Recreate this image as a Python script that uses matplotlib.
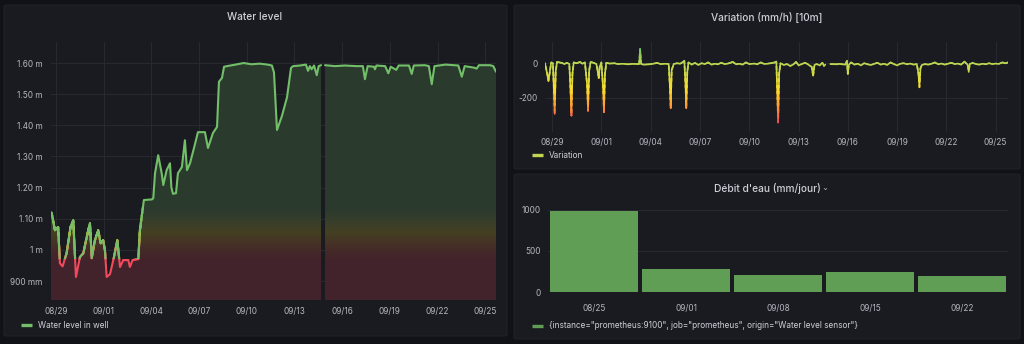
import matplotlib
matplotlib.use("Agg")
import matplotlib.pyplot as plt
import numpy as np
from matplotlib.colors import LinearSegmentedColormap, Normalize, to_rgb
from matplotlib.patches import Rectangle, FancyBboxPatch
from matplotlib.lines import Line2D
from matplotlib.path import Path

plt.rcParams["font.family"] = ["Inter", "DejaVu Sans"]

# ── Data ──────────────────────────────────────────────────────────────────────
# days since 08/29 00:00
DATE_TICKS = [0, 3, 6, 9, 12, 15, 18, 21, 24, 27]
DATE_LABELS = ["08/29", "09/01", "09/04", "09/07", "09/10",
               "09/13", "09/16", "09/19", "09/22", "09/25"]

WL_DAY = [-0.31, -0.27, -0.06, 0.14, 0.25, 0.42, 0.67, 0.92, 1.09, 1.26,
          1.51, 1.72, 2.03, 2.14, 2.25, 2.45, 2.66, 2.81, 2.97, 3.08,
          3.19, 3.40, 3.65, 3.86, 4.03, 4.23, 4.55, 4.65, 4.82, 5.18,
          5.28, 5.39, 5.53, 6.04, 6.12, 6.23, 6.43, 6.65, 6.75, 6.96,
          7.17, 7.26, 7.36, 7.55, 7.67, 7.92, 8.11, 8.24, 8.43, 8.68,
          8.93, 9.37, 9.56, 9.87, 10.13, 10.25, 10.44, 10.57, 10.75, 11.30,
          11.80, 12.30, 12.80, 13.30, 13.58, 13.71, 13.90, 14.21, 14.53, 14.78,
          14.91, 15.35, 15.72, 15.85, 15.97, 16.08, 16.23, 16.40, 16.52, 16.67,
          16.80,
          16.92, 17.55, 18.18, 18.90, 19.30, 19.43, 19.60, 20.00, 20.06, 20.15,
          20.70, 20.90, 21.05, 21.40, 21.55, 22.20, 22.37, 22.50, 23.20, 23.45,
          23.63, 23.80, 24.50, 25.30, 25.52, 25.70, 26.30, 26.45, 26.60, 27.30,
          27.50, 27.67]
WL_LEVEL = [1.120, 1.119, 1.063, 1.073, 0.957, 0.947, 0.989, 1.074, 1.095, 0.913,
            0.977, 0.989, 1.063, 1.085, 0.973, 1.031, 1.063, 1.021, 1.031, 0.999,
            0.913, 0.922, 0.977, 1.031, 0.945, 0.967, 0.967, 0.945, 0.967, 0.970,
            1.063, 1.106, 1.160, 1.162, 1.166, 1.246, 1.304, 1.246, 1.208, 1.256,
            1.278, 1.200, 1.180, 1.182, 1.246, 1.266, 1.352, 1.256, 1.278, 1.327,
            1.378, 1.378, 1.327, 1.375, 1.395, 1.540, 1.552, 1.588, 1.590, 1.595,
            1.600, 1.596, 1.598, 1.595, 1.592, 1.570, 1.385, 1.430, 1.490, 1.584,
            1.590, 1.592, 1.595, 1.575, 1.590, 1.580, 1.592, 1.561, 1.590, 1.593,
            np.nan,
            1.593, 1.590, 1.592, 1.590, 1.590, 1.548, 1.590, 1.588, 1.580, 1.592,
            1.590, 1.567, 1.588, 1.578, 1.592, 1.592, 1.565, 1.592, 1.593, 1.590,
            1.532, 1.590, 1.595, 1.592, 1.556, 1.590, 1.585, 1.582, 1.593, 1.593,
            1.590, 1.572]

VAR_DAY = [-0.43, -0.30, -0.22, -0.12, -0.05, 0.05, 0.10, 0.16, 0.22, 0.30,
           0.45, 0.60, 0.75, 0.90, 1.05, 1.12, 1.18, 1.24, 1.32, 1.50,
           1.70, 1.85, 2.00, 2.13, 2.19, 2.26, 2.35, 2.55, 2.70, 2.80,
           2.84, 2.90, 3.00, 3.10, 3.16, 3.22, 3.30, 3.50, 3.80, 4.00,
           4.30, 4.60, 4.90, 5.20, 5.30, 5.36, 5.42, 5.60, 5.90, 6.10,
           6.40, 6.60, 6.90, 7.10, 7.17, 7.22, 7.28, 7.40, 7.60, 7.80,
           8.00, 8.05, 8.12, 8.17, 8.23, 8.30, 8.50, 8.70, 8.90, 9.10,
           9.30, 9.50, 9.70, 9.90, 10.10, 10.30, 10.50, 10.70, 11.00, 11.20,
           11.40, 11.60, 11.80, 12.00, 12.30, 12.50, 12.70, 12.90, 13.10, 13.30,
           13.55, 13.65, 13.70, 13.76, 13.82, 13.90, 14.10, 14.30, 14.50, 14.70,
           14.85, 15.00, 15.20, 15.40, 15.60, 15.80, 15.89, 15.97, 16.10, 16.30,
           16.45, 16.55, 16.63,
           16.78,
           16.94, 17.10, 17.30, 17.50, 17.70, 17.85, 17.95, 18.00, 18.06, 18.20,
           18.40, 18.60, 18.80, 19.00, 19.20, 19.40, 19.60, 19.80, 20.00, 20.20,
           20.40, 20.60, 20.80, 21.00, 21.20, 21.40, 21.60, 21.80, 22.00, 22.20,
           22.30, 22.36, 22.42, 22.50, 22.70, 22.90, 23.10, 23.30, 23.50, 23.70,
           23.90, 24.10, 24.30, 24.50, 24.70, 24.90, 25.10, 25.30, 25.36, 25.42,
           25.60, 25.80, 26.00, 26.20, 26.40, 26.60, 26.80, 27.00, 27.20, 27.40,
           27.60, 27.75]
VAR_VALUE = [0, -60, -103, -40, 5, 0, -120, -295, -50, 8,
             5, 2, -5, 3, -5, -150, -305, -60, 5, 0,
             8, -3, 5, -120, -277, -40, 8, 2, -5, -60,
             -86, -20, 5, -130, -285, -60, 3, -2, 0, -5,
             -3, -6, -4, -5, -5, 83, -5, -8, -6, -4,
             2, -5, -3, -5, -130, -262, -40, -5, 0, -3,
             10, 15, -120, -262, -50, 5, -8, 2, -10, 0,
             -5, 5, -8, -3, -6, 3, -5, -2, 8, -6,
             -3, -8, 5, -5, -2, -6, 5, -4, -3, 0,
             5, 10, -150, -345, -60, 0, -10, -5, -15, -6,
             8, -12, -5, 3, -8, -20, -72, -10, -5, -12,
             3, -15, -8,
             np.nan,
             -5, -5, -6, -4, -6, -8, 15, -62, -10, 5,
             -8, -3, -12, 0, -6, -10, -4, 3, -8, -3,
             -10, 5, -5, -12, -3, 0, -6, -2, -8, -5,
             -60, -140, -30, -10, -5, -8, -3, 5, -6, -2,
             -8, -3, 3, -5, -2, -8, 10, -10, -49, -5,
             2, -5, -8, -3, -6, 0, -5, -2, -4, 5,
             0, 5]

BAR_LABELS = ["08/25", "09/01", "09/08", "09/15", "09/22"]
BAR_VALUES = [990, 276, 207, 248, 198]

# ── Style ─────────────────────────────────────────────────────────────────────
W, H = 1024, 344
BG = "#111217"
PANEL = "#1a1b20"
BORDER = "#24262c"
TEXT = "#cfcfd8"
TICK = "#b6b6c0"
GRID = "#2a2c32"
GREEN = "#73bf69"
BAR = "#609e56"

# value -> colour stops (Grafana-like green / yellow / red scheme)
WL_LO, WL_HI = 0.97, 1.13
WL_CMAP = LinearSegmentedColormap.from_list("wl", [
    (0.00, "#f2495c"), (0.25, "#ff7f45"), (0.53, "#fade2a"),
    (0.75, "#b9d65a"), (1.00, "#73bf69")])
WL_NORM = Normalize(WL_LO, WL_HI)

VAR_CMAP = LinearSegmentedColormap.from_list("var", [
    (0.00, "#f2495c"), (0.22, "#ff9830"), (0.45, "#fade2a"),
    (0.72, "#c8d84c"), (0.79, "#bed650"), (1.00, "#73bf69")])
VAR_NORM = Normalize(-345, 90)


def box(x0, y0, x1, y1):
    return [x0 / W, 1 - y1 / H, (x1 - x0) / W, (y1 - y0) / H]


def style_axes(ax):
    ax.set_facecolor("none")
    for s in ax.spines.values():
        s.set_visible(False)
    ax.tick_params(length=0, colors=TICK, labelsize=5.9)
    ax.set_axisbelow(True)


def gradient_line(ax, x, y, cmap, norm, edges, lw):
    x0, x1 = ax.get_xlim()
    for lo, hi in zip(edges[:-1], edges[1:]):
        ln, = ax.plot(x, y, color=cmap(norm((lo + hi) / 2)), lw=lw,
                      solid_joinstyle="round", solid_capstyle="round", zorder=3)
        pad = (hi - lo) * 0.3
        ln.set_clip_path(Rectangle((x0, lo - pad), x1 - x0, hi - lo + 2 * pad,
                                   transform=ax.transData))


def legend(x, y, text, color):
    fig.add_artist(Line2D([x / W, (x + 11) / W], [1 - y / H] * 2,
                          transform=fig.transFigure, color=color, lw=2.4,
                          solid_capstyle="butt"))
    fig.text((x + 17) / W, 1 - y / H, text, color=TEXT, fontsize=5.9,
             ha="left", va="center")


fig = plt.figure(figsize=(W / 100, H / 100), dpi=100, facecolor=BG)

for x0, y0, x1, y1 in [(4, 5, 507, 336), (514, 5, 1020, 169), (514, 174, 1020, 339)]:
    fig.add_artist(FancyBboxPatch((x0 / W, 1 - y1 / H), (x1 - x0) / W, (y1 - y0) / H,
                                  boxstyle="round,pad=0,rounding_size=0.003",
                                  transform=fig.transFigure, fc=PANEL, ec=BORDER,
                                  lw=0.6, zorder=-5))

# ── Water level ───────────────────────────────────────────────────────────────
ax = fig.add_axes(box(51, 42, 496, 300))
style_axes(ax)
ax.set_xlim(-0.31, 27.67)
ax.set_ylim(0.839, 1.6675)
ax.set_xticks(DATE_TICKS)
ax.set_xticklabels(DATE_LABELS)
ax.set_yticks([0.9, 1.0, 1.1, 1.2, 1.3, 1.4, 1.5, 1.6])
ax.set_yticklabels(["900 mm", "1 m", "1.10 m", "1.20 m", "1.30 m",
                    "1.40 m", "1.50 m", "1.60 m"])
ax.tick_params(axis="x", pad=5)
ax.tick_params(axis="y", pad=6)
ax.grid(True, color=GRID, lw=0.6)

wx = np.array(WL_DAY)
wy = np.array(WL_LEVEL)
poly = ax.fill_between(wx, 0.839, wy, lw=0)
clip = Path.make_compound_path(*poly.get_paths())
poly.remove()
levels = np.linspace(0.839, 1.6675, 300)
bg = np.array(to_rgb(PANEL))
grad = np.array([0.19 * np.array(WL_CMAP(WL_NORM(v))[:3]) + 0.81 * bg for v in levels])
im = ax.imshow(grad[:, None, :], extent=[-0.31, 27.67, 0.839, 1.6675],
               origin="lower", aspect="auto", zorder=2, interpolation="bilinear")
im.set_clip_path(clip, ax.transData)
gradient_line(ax, wx, wy, WL_CMAP, WL_NORM,
              np.concatenate([[0.80], np.linspace(WL_LO, WL_HI + 0.01, 46), [1.70]]), 1.5)

fig.text(255 / W, 1 - 17 / H, "Water level", color=TEXT, fontsize=7.3,
         weight=500, ha="center", va="center")
legend(21, 325, "Water level in well", GREEN)

# ── Variation ─────────────────────────────────────────────────────────────────
ax = fig.add_axes(box(545, 42, 1008, 132))
style_axes(ax)
ax.set_xlim(-0.43, 27.75)
ax.set_ylim(-400, 124)
ax.set_xticks(DATE_TICKS)
ax.set_xticklabels(DATE_LABELS)
ax.set_yticks([-200, 0])
ax.set_yticklabels(["-200", "0"])
ax.tick_params(axis="x", pad=4)
ax.tick_params(axis="y", pad=5)
ax.grid(True, color=GRID, lw=0.6)
gradient_line(ax, np.array(VAR_DAY), np.array(VAR_VALUE, dtype=float),
              VAR_CMAP, VAR_NORM,
              np.concatenate([[-420], np.linspace(-350, 90, 89), [140]]), 1.2)

fig.text(767 / W, 1 - 17 / H, "Variation (mm/h) [10m]", color=TEXT,
         fontsize=7.3, weight=500, ha="center", va="center")
legend(532, 155, "Variation", "#c2d651")

# ── Débit d'eau ───────────────────────────────────────────────────────────────
ax = fig.add_axes(box(548, 205, 1008, 292))
style_axes(ax)
ax.set_xlim(-0.5, len(BAR_VALUES) - 0.5)
ax.set_ylim(0, 1060)
ax.bar(range(len(BAR_VALUES)), BAR_VALUES, width=0.955, color=BAR, zorder=3)
ax.set_xticks(range(len(BAR_LABELS)))
ax.set_xticklabels(BAR_LABELS)
ax.set_yticks([0, 500, 1000])
ax.set_yticklabels(["0", "500", "1000"])
ax.tick_params(axis="x", pad=9)
ax.tick_params(axis="y", pad=5)
ax.grid(True, axis="y", color=GRID, lw=0.6)

fig.text(767 / W, 1 - 188 / H, "Débit d'eau (mm/jour)", color=TEXT,
         fontsize=7.3, weight=500, ha="center", va="center")
fig.text(825 / W, 1 - 188 / H, "⌄", color=TICK, fontsize=6,
         family=["DejaVu Sans"], ha="center", va="center")
legend(532, 326, '{instance="prometheus:9100", job="prometheus", origin="Water level sensor"}', BAR)

plt.savefig("out.png", dpi=100, facecolor=BG)
